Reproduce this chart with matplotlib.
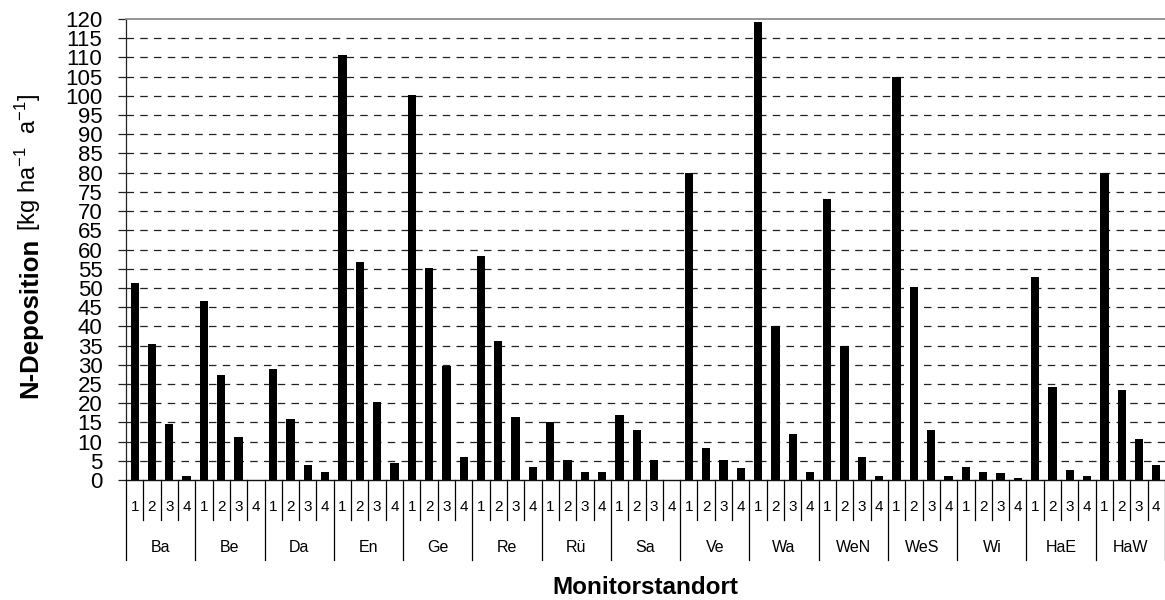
import numpy as np
import matplotlib.pyplot as plt

# Monitorstandorte und N-Deposition je Teilfläche 1-4 [kg ha-1 a-1]
sites = ['Ba', 'Be', 'Da', 'En', 'Ge', 'Re', 'Rü', 'Sa', 'Ve', 'Wa', 'WeN', 'WeS', 'Wi', 'HaE', 'HaW']
sub_labels = ['1', '2', '3', '4']
dep_1 = [51.4, 46.7, 29.0, 110.6, 100.3, 58.4, 15.2, 16.8, 79.9, 119.3, 73.1, 105.0, 3.5, 52.8, 79.9]
dep_2 = [35.5, 27.3, 16.0, 56.7, 55.1, 36.3, 5.2, 13.0, 8.2, 40.2, 35.0, 50.2, 2.2, 24.3, 23.4]
dep_3 = [14.7, 11.3, 4.0, 20.4, 29.8, 16.5, 2.2, 5.2, 5.1, 12.1, 6.1, 13.0, 1.8, 2.7, 10.8]
dep_4 = [1.0, 0.0, 2.2, 4.5, 6.1, 3.5, 2.2, 0.0, 3.0, 2.2, 1.1, 1.1, 0.6, 1.1, 4.0]
y_ticks = np.arange(0, 121, 5)

plt.rcParams['mathtext.fontset'] = 'custom'
plt.rcParams['mathtext.rm'] = 'Liberation Sans'
plt.rcParams['mathtext.it'] = 'Liberation Sans:italic'
plt.rcParams['mathtext.bf'] = 'Liberation Sans:bold'

SANS = ['Liberation Sans', 'DejaVu Sans']

values = np.column_stack([dep_1, dep_2, dep_3, dep_4]).ravel()
n_sub = len(sub_labels)
x = np.arange(len(values))

W, H = 1165, 600
fig = plt.figure(figsize=(W / 100, H / 100), dpi=100)
ax = fig.add_axes([126 / W, 120 / H, 1 - 126 / W, 461 / H])

ax.bar(x, values, width=0.48, color='black', zorder=3)
ax.set_xlim(-0.5, len(values) - 0.5)
ax.set_ylim(0, 120)

# y-Achse
ax.set_yticks(y_ticks)
ax.set_yticklabels([str(v) for v in y_ticks], family=SANS, fontsize=16)
ax.tick_params(axis='y', direction='out', length=6, width=0.9, color='#222222', pad=11)
ax.set_xticks([])

# gestrichelte Hilfslinien
ax.set_axisbelow(True)
ax.yaxis.grid(True, color='#222222', linewidth=0.9, linestyle=(0, (6, 5)))
gl = ax.get_ygridlines()
gl[0].set_visible(False)
gl[-1].set_visible(False)

ax.spines['right'].set_visible(False)
ax.spines['top'].set_color('#8c8c8c')
ax.spines['top'].set_linewidth(1.3)
ax.spines['left'].set_color('#222222')
ax.spines['bottom'].set_color('#111111')
ax.spines['left'].set_linewidth(0.9)
ax.spines['bottom'].set_linewidth(1.0)

# zweistufige Kategorienachse
trans = ax.get_xaxis_transform()
px = 1 / 461
for b in range(len(values) + 1):
    edge = b - 0.5
    depth = 80 * px if b % n_sub == 0 else 40 * px
    ax.plot([edge, edge], [0, -depth], transform=trans, clip_on=False,
            color='black', linewidth=0.9)

for i in x:
    ax.text(i, -27 * px, sub_labels[i % n_sub], transform=trans, ha='center', va='center',
            family=SANS, fontsize=11)

for g, site in enumerate(sites):
    ax.text(g * n_sub + (n_sub - 1) / 2, -67 * px, site, transform=trans,
            ha='center', va='center', family=SANS, fontsize=11.5)

ax.text(0.5, -108 * px, 'Monitorstandort', transform=ax.transAxes, ha='center', va='center',
        family=SANS, fontsize=17.5, fontweight='bold')

# Achsentitel y (fett + Einheit)
fig.text(30 / W, 1 - 318 / H, 'N-Deposition', rotation=90, ha='center', va='center',
         family=SANS, fontsize=18.5, fontweight='bold')
fig.text(28 / W, 1 - 163 / H, r'[kg ha$^{-1}$  a$^{-1}$]', rotation=90, ha='center', va='center',
         family=SANS, fontsize=17)

fig.savefig('out.png', dpi=100)
